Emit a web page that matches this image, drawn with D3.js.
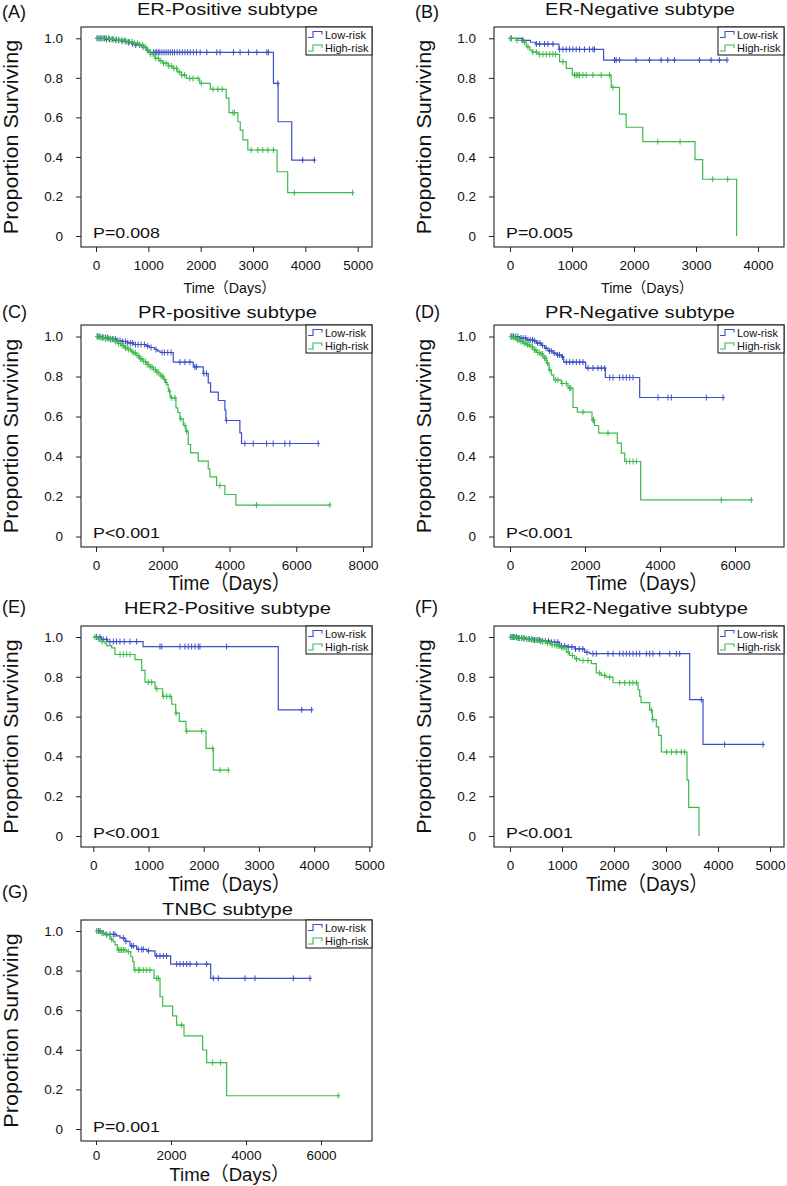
<!DOCTYPE html>
<html><head><meta charset="utf-8">
<script src="https://cdn.jsdelivr.net/npm/d3@7"></script>
<style>
body{margin:0;background:#fff}
text{font-family:"Liberation Sans",Arial,"Noto Sans CJK SC",sans-serif;fill:#111}
</style>
</head><body>
<svg id="chart" width="787" height="1186"></svg>
<script>
// ---------- DATA: [day, survival] steps, censor days ----------
const yTicks = [0, 0.2, 0.4, 0.6, 0.8, 1.0];
const legendLabels = ["Low-risk", "High-risk"];
const panelLetters = ["(A)", "(B)", "(C)", "(D)", "(E)", "(F)", "(G)"];
const panelTitles = ["ER-Positive subtype", "ER-Negative subtype", "PR-positive subtype", "PR-Negative subtype", "HER2-Positive subtype", "HER2-Negative subtype", "TNBC subtype"];
const pValues = ["P=0.008", "P=0.005", "P<0.001", "P<0.001", "P<0.001", "P<0.001", "P=0.001"];
const xTicksA = [0, 1000, 2000, 3000, 4000, 5000];
const xTicksB = [0, 1000, 2000, 3000, 4000];
const xTicksC = [0, 2000, 4000, 6000, 8000];
const xTicksD = [0, 2000, 4000, 6000];
const xTicksE = [0, 1000, 2000, 3000, 4000, 5000];
const xTicksF = [0, 1000, 2000, 3000, 4000, 5000];
const xTicksG = [0, 2000, 4000, 6000];

const A_low = [[0,1],[180,0.995],[330,0.99],[480,0.985],[600,0.98],[680,0.972],[760,0.966],[880,0.957],[960,0.94],[1010,0.929],[3390,0.772],[3479,0.578],[3740,0.384],[4171,0.384]];
const A_lowCens = [20,60,110,160,200,260,320,380,430,500,560,620,700,760,830,900,980,1100,1130,1160,1190,1220,1260,1300,1340,1380,1420,1460,1500,1550,1600,1650,1700,1750,1800,1860,1920,1990,2117,2307,2371,2626,2753,2913,3072,3263,3295,3473,3949,4171];
const A_high = [[0,1],[250,0.995],[394,0.991],[550,0.983],[711,0.975],[820,0.966],[902,0.957],[965,0.94],[1040,0.92],[1124,0.899],[1200,0.886],[1282,0.874],[1380,0.86],[1473,0.848],[1550,0.83],[1632,0.814],[1727,0.797],[1981,0.772],[2184,0.742],[2489,0.697],[2540,0.624],[2711,0.578],[2756,0.536],[2806,0.486],[2901,0.435],[3460,0.325],[3663,0.219],[4902,0.219]];
const A_highCens = [40,90,140,190,240,290,340,390,440,490,540,590,640,690,740,790,840,890,940,990,1040,1090,1140,1190,1240,1290,1340,1390,1440,1490,1540,1590,1640,1690,1790,1854,1949,2013,2235,2330,2413,2616,2648,2965,3092,3187,3283,3390,3790,4902];

const B_low = [[0,1],[200,0.99],[330,0.98],[420,0.971],[790,0.944],[1510,0.89],[3500,0.89]];
const B_lowCens = [21,209,424,478,558,612,692,800,853,907,961,1014,1068,1122,1202,1283,1337,1363,1686,1712,1766,2034,2249,2437,2544,2652,3055,3243,3377,3500];
const B_high = [[0,1],[102,0.99],[190,0.98],[263,0.957],[320,0.94],[360,0.93],[451,0.919],[800,0.882],[907,0.848],[1004,0.814],[1632,0.752],[1766,0.616],[1873,0.55],[2142,0.477],[2984,0.386],[3108,0.287],[3655,0]];
const B_highCens = [0,113,236,290,370,424,478,531,585,639,692,735,853,1041,1068,1095,1122,1175,1229,1337,1471,1605,1659,2383,2743,3269,3511];

const C_low = [[0,1],[200,0.995],[400,0.988],[620,0.98],[800,0.975],[950,0.968],[1120,0.96],[1500,0.952],[1600,0.945],[1750,0.935],[1850,0.927],[1920,0.92],[2315,0.872],[2914,0.848],[3214,0.815],[3363,0.768],[3433,0.722],[3663,0.68],[3862,0.632],[3892,0.58],[4311,0.518],[4361,0.465],[6656,0.465]];
const C_lowCens = [50,120,200,280,350,430,500,580,650,720,800,880,950,1030,1100,1180,1260,1350,1450,1550,1650,1800,1980,2050,2150,2250,2515,2665,2814,2964,3014,3234,3313,3912,4461,4711,5110,5309,5659,5808,6656];
const C_high = [[0,1],[100,0.995],[250,0.99],[400,0.985],[550,0.975],[650,0.965],[750,0.955],[850,0.943],[950,0.935],[1050,0.925],[1120,0.918],[1200,0.905],[1300,0.888],[1400,0.875],[1520,0.86],[1620,0.848],[1720,0.835],[1820,0.82],[1920,0.802],[2020,0.785],[2080,0.77],[2120,0.76],[2160,0.74],[2180,0.727],[2216,0.702],[2240,0.693],[2395,0.643],[2450,0.62],[2515,0.588],[2615,0.555],[2690,0.527],[2764,0.46],[2834,0.418],[3064,0.377],[3363,0.338],[3413,0.298],[3613,0.255],[3862,0.21],[4192,0.157],[7006,0.157]];
const C_highCens = [30,80,130,180,230,280,330,380,430,480,530,580,630,680,730,780,830,880,930,980,1030,1080,1130,1180,1230,1280,1330,1380,1430,1480,1530,1580,1630,1680,1730,1780,1830,1880,1950,2000,2060,2100,2200,2265,2365,2540,2665,2714,3712,4810,7006];

const D_low = [[0,1],[258,0.992],[436,0.983],[613,0.978],[702,0.967],[836,0.955],[924,0.942],[1013,0.928],[1147,0.917],[1236,0.908],[1369,0.898],[1431,0.872],[2018,0.842],[2542,0.795],[3458,0.695],[5680,0.695]];
const D_lowCens = [30,90,150,210,290,350,420,480,540,600,660,740,800,870,960,1050,1100,1180,1270,1320,1400,1502,1591,1680,1769,1858,1947,2080,2213,2347,2436,2524,2658,2747,2924,3013,3102,3191,3280,3947,4213,4302,5236,5680];
const D_high = [[0,1],[80,0.995],[169,0.983],[260,0.975],[347,0.967],[440,0.958],[524,0.95],[613,0.933],[700,0.92],[791,0.912],[880,0.892],[969,0.867],[1040,0.833],[1102,0.808],[1164,0.783],[1369,0.765],[1547,0.742],[1680,0.645],[1796,0.622],[2187,0.582],[2250,0.555],[2364,0.517],[2862,0.467],[2969,0.417],[3058,0.375],[3484,0.183],[6436,0.183]];
const D_highCens = [20,60,110,150,200,240,290,330,380,420,470,510,560,600,650,690,740,780,830,870,920,960,1000,1060,1218,1280,1390,1502,1591,1620,1947,2213,2230,2613,3102,3191,3280,3369,5636,6436];

const E_low = [[0,1],[150,0.988],[250,0.977],[901,0.952],[3351,0.634],[3956,0.634]];
const E_lowCens = [60,120,180,242,300,363,420,483,560,664,785,1208,1240,1570,1661,1721,1781,1842,1902,1932,2415,3775,3956];
const E_high = [[0,1],[60,0.99],[121,0.978],[212,0.966],[243,0.957],[333,0.945],[393,0.912],[755,0.886],[877,0.832],[937,0.773],[1118,0.74],[1257,0.702],[1420,0.662],[1493,0.617],[1558,0.576],[1679,0.527],[2042,0.44],[2174,0.331],[2446,0.331]];
const E_highCens = [30,100,160,484,545,605,665,997,1058,1150,1268,1330,1389,1500,1692,1964,2163,2295,2446];

const F_low = [[0,1],[150,0.995],[300,0.99],[450,0.985],[600,0.98],[763,0.974],[955,0.955],[1100,0.95],[1250,0.94],[1436,0.923],[1532,0.916],[3455,0.685],[3712,0.46],[4865,0.46]];
const F_lowCens = [20,70,120,170,220,270,320,370,420,470,520,570,620,680,740,800,860,920,990,1050,1120,1190,1260,1330,1400,1480,1596,1660,1885,1981,2109,2173,2237,2301,2365,2430,2494,2622,2686,2750,2878,3071,3199,3263,3679,4128,4865];
const F_high = [[0,1],[100,0.995],[250,0.99],[400,0.985],[550,0.978],[700,0.97],[800,0.962],[900,0.955],[955,0.946],[1083,0.924],[1147,0.907],[1244,0.89],[1340,0.882],[1564,0.866],[1660,0.819],[1756,0.807],[1850,0.798],[1981,0.77],[2462,0.735],[2494,0.702],[2520,0.67],[2686,0.632],[2737,0.585],[2814,0.548],[2859,0.506],[2910,0.422],[3404,0.281],[3436,0.144],[3635,0]];
const F_highCens = [10,50,90,140,180,230,270,320,360,410,450,500,540,590,630,680,720,770,810,860,900,940,1000,1040,1120,1200,1280,1404,1500,1724,1821,1917,2109,2205,2301,2365,2430,2718,2750,3007,3103,3199,3295,3359];

const G_low = [[0,1],[196,0.99],[240,0.983],[551,0.975],[640,0.965],[773,0.948],[907,0.925],[1084,0.907],[1350,0.9],[1573,0.874],[1991,0.833],[3058,0.761],[5707,0.761]];
const G_lowCens = [62,107,284,373,462,507,729,800,951,996,1129,1218,1262,1396,1618,1707,1796,1884,2151,2240,2329,2418,2507,2684,2951,3129,3262,3973,4240,5262,5707];
const G_high = [[0,1],[107,0.99],[240,0.98],[373,0.958],[462,0.946],[507,0.93],[569,0.904],[818,0.896],[924,0.87],[978,0.845],[1013,0.803],[1547,0.761],[1707,0.668],[1778,0.621],[2044,0.571],[2151,0.525],[2347,0.47],[2844,0.399],[2951,0.335],[3484,0.168],[6462,0.168]];
const G_highCens = [18,160,196,284,418,596,640,684,729,773,862,1040,1129,1173,1262,1351,1440,1618,1662,2284,3111,3324,6462];

// ---------- LAYOUT ----------
const COL_BLUE = "#3b4fc4", COL_GREEN = "#3dba4b";
const rows = [
  {top:27,  bot:247,  y1:38.3, y0:236,  titleBase:14.5, letterBase:17.5, timeBase:293,   timeSize:15, timeSx:0.95, tickSize:5, tickPad:8},
  {top:325, bot:547,  y1:336.5,y0:536.5,titleBase:318,  letterBase:318,  timeBase:590,   timeSize:21, timeSx:0.9,  tickSize:5, tickPad:8},
  {top:626, bot:847,  y1:637,  y0:836,  titleBase:613.5,letterBase:613,  timeBase:891,   timeSize:21, timeSx:0.9,  tickSize:5, tickPad:8},
  {top:920, bot:1141, y1:931,  y0:1129, titleBase:914.5,letterBase:898,  timeBase:1181,  timeSize:19, timeSx:0.98, tickSize:4, tickPad:5}
];
const cols = [{left:81, right:372, letterX:2, timeDx:3}, {left:494, right:784, letterX:415, timeDx:8}];
const panels = [
  {r:0,c:0,ticks:xTicksA,px:[96,357.7], low:A_low,lowC:A_lowCens,high:A_high,highC:A_highCens},
  {r:0,c:1,ticks:xTicksB,px:[510,758],  low:B_low,lowC:B_lowCens,high:B_high,highC:B_highCens},
  {r:1,c:0,ticks:xTicksC,px:[96,363],   low:C_low,lowC:C_lowCens,high:C_high,highC:C_highCens},
  {r:1,c:1,ticks:xTicksD,px:[510,735],  low:D_low,lowC:D_lowCens,high:D_high,highC:D_highCens},
  {r:2,c:0,ticks:xTicksE,px:[93.3,369.3],low:E_low,lowC:E_lowCens,high:E_high,highC:E_highCens},
  {r:2,c:1,ticks:xTicksF,px:[510,770],  low:F_low,lowC:F_lowCens,high:F_high,highC:F_highCens},
  {r:3,c:0,ticks:xTicksG,px:[96,321],   low:G_low,lowC:G_lowCens,high:G_high,highC:G_highCens}
];

const svg = d3.select("#chart");

function sText(g, x, y, str, size, sx, anchor) {
  return g.append("text")
    .attr("transform", `translate(${x},${y}) scale(${sx},1)`)
    .attr("text-anchor", anchor || "start")
    .style("font-size", size + "px")
    .text(str);
}

function survAt(steps, t) {
  let s = steps[0][1];
  for (const [tt, ss] of steps) { if (tt <= t) s = ss; else break; }
  return s;
}

panels.forEach((p, i) => {
  const R = rows[p.r], C = cols[p.c];
  const g = svg.append("g");
  const tmax = p.ticks[p.ticks.length - 1];
  const x = d3.scaleLinear().domain([0, tmax]).range(p.px);
  const y = d3.scaleLinear().domain([0, 1]).range([R.y0, R.y1]);
  const cx = (C.left + C.right) / 2;

  // axes
  const xa = g.append("g").attr("transform", `translate(0,${R.bot})`)
    .call(d3.axisBottom(x).tickValues(p.ticks).tickSize(R.tickSize).tickPadding(R.tickPad).tickFormat(d3.format("d")));
  const ya = g.append("g").attr("transform", `translate(${C.left},0)`)
    .call(d3.axisLeft(y).tickValues(yTicks).tickSize(5).tickPadding(13).tickFormat(d => d === 0 ? "0" : d.toFixed(1)));
  [xa, ya].forEach(a => {
    a.select(".domain").remove();
    a.selectAll("line").attr("stroke", "#222");
    a.selectAll("text").style("font-size", "13.5px").style("font-family", "'Liberation Sans',Arial,sans-serif").attr("fill", "#111");
  });

  // curves
  const line = d3.line().x(d => x(d[0])).y(d => y(d[1])).curve(d3.curveStepAfter);
  const series = [[p.low, p.lowC, COL_BLUE], [p.high, p.highC, COL_GREEN]];
  series.forEach(([steps, cens, col]) => {
    g.append("path").attr("d", line(steps)).attr("fill", "none").attr("stroke", col).attr("stroke-width", 1.2);
    g.append("g").selectAll("path").data(cens).join("path")
      .attr("d", t => { const X = x(t), Y = y(survAt(steps, t)); return `M${X},${Y-3}v6M${X-2},${Y}h4`; })
      .attr("stroke", col).attr("stroke-width", 1).attr("fill", "none");
  });

  // plot box
  g.append("rect").attr("x", C.left).attr("y", R.top).attr("width", C.right - C.left).attr("height", R.bot - R.top)
    .attr("fill", "none").attr("stroke", "#222").attr("stroke-width", 1.1);

  // legend
  const lw = 66, lh = 28, lx = C.right - lw, ly = R.top;
  const lg = g.append("g");
  lg.append("rect").attr("x", lx).attr("y", ly).attr("width", lw).attr("height", lh).attr("fill", "#fff").attr("stroke", "#222").attr("stroke-width", 1.1);
  [COL_BLUE, COL_GREEN].forEach((col, k) => {
    const yy = ly + 7.5 + k * 13.5;
    lg.append("path").attr("d", `M${lx+2},${yy+3}h5v-6h9v3`).attr("fill", "none").attr("stroke", col).attr("stroke-width", 1.1);
    sText(lg, lx + 19, yy + 4, legendLabels[k], 11, 1, "start");
  });

  // texts
  sText(g, C.letterX, R.letterBase, panelLetters[i], 18, 1, "start");
  sText(g, cx + 1, R.titleBase, panelTitles[i], 16.5, 1.22, "middle");
  sText(g, C.left + 12, R.bot - 9.5, pValues[i], 15, 1.19, "start");
  sText(g, cx + C.timeDx, R.timeBase, "Time（Days）", R.timeSize, R.timeSx, "middle");
  const ylx = C.left - 63, yly = (R.top + R.bot) / 2;
  g.append("text").attr("transform", `translate(${ylx},${yly}) rotate(-90) scale(1.08,1)`)
    .attr("text-anchor", "middle").style("font-size", "20px").text("Proportion Surviving");
});
</script>
</body></html>
